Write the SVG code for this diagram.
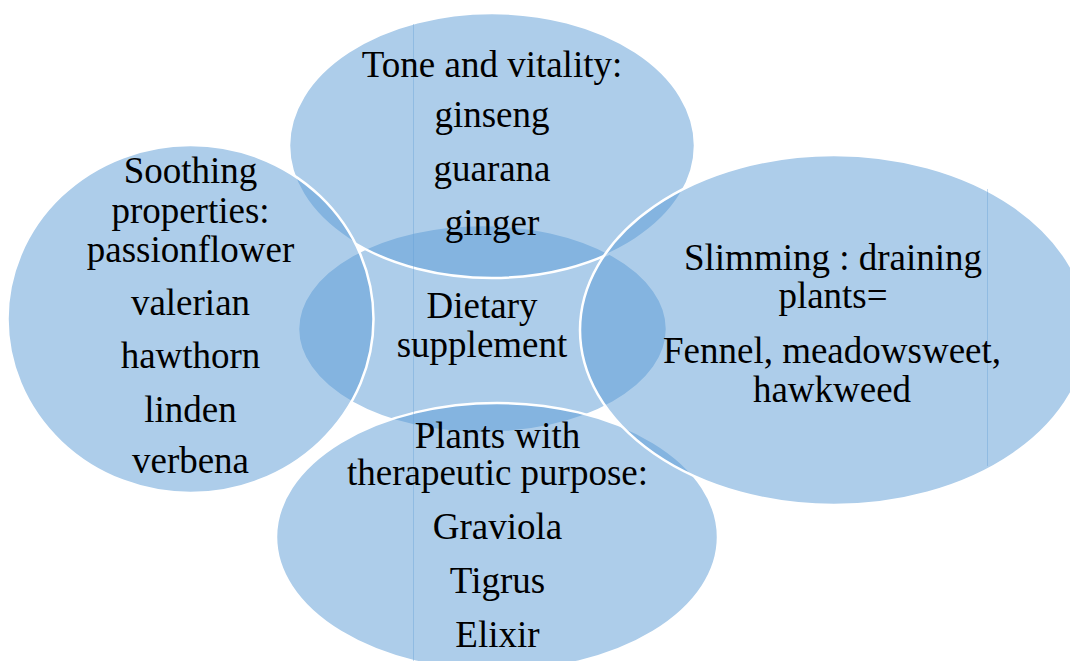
<svg xmlns="http://www.w3.org/2000/svg" width="1070" height="661" viewBox="0 0 1070 661">
<style>
.sh{fill:#5b9bd5;fill-opacity:0.5;stroke:#ffffff;stroke-width:2.5}
.t{font-family:"Liberation Serif","Times New Roman",serif;font-size:37px;fill:#000000;text-anchor:middle}
.seam{stroke:#5b9bd5;stroke-opacity:0.35;stroke-width:1;fill:none}
</style>
<rect width="1070" height="661" fill="#ffffff"/>
<g id="center"><ellipse class="sh" cx="482.5" cy="329" rx="184.5" ry="104"/></g>
<g id="top"><ellipse class="sh" cx="492" cy="145.5" rx="203" ry="132.5"/></g>
<g id="bottom"><ellipse class="sh" cx="497" cy="537" rx="221" ry="134"/></g>
<g id="left"><ellipse class="sh" cx="190.5" cy="319" rx="183" ry="174"/></g>
<g id="right"><ellipse class="sh" cx="834" cy="330" rx="254" ry="175"/></g>
<g id="connectors"></g>
<g id="seams">
<line class="seam" x1="413.5" y1="24" x2="413.5" y2="661"/>
<line class="seam" x1="987.5" y1="189" x2="987.5" y2="466"/>
</g>
<g id="labels">
<text class="t" x="492" y="77">Tone and vitality:</text>
<text class="t" x="492" y="127">ginseng</text>
<text class="t" x="492" y="181">guarana</text>
<text class="t" x="492" y="235">ginger</text>
<text class="t" x="190.5" y="183">Soothing</text>
<text class="t" x="190.5" y="223">properties:</text>
<text class="t" x="190.5" y="262">passionflower</text>
<text class="t" x="190.5" y="315">valerian</text>
<text class="t" x="190.5" y="368">hawthorn</text>
<text class="t" x="190.5" y="422">linden</text>
<text class="t" x="190.5" y="473">verbena</text>
<text class="t" x="833" y="270">Slimming : draining</text>
<text class="t" x="833" y="308">plants=</text>
<text class="t" x="832" y="363">Fennel, meadowsweet,</text>
<text class="t" x="832" y="402">hawkweed</text>
<text class="t" x="482" y="318">Dietary</text>
<text class="t" x="482" y="357">supplement</text>
<text class="t" x="497.5" y="448">Plants with</text>
<text class="t" x="497.5" y="485">therapeutic purpose:</text>
<text class="t" x="497.5" y="539">Graviola</text>
<text class="t" x="497.5" y="593">Tigrus</text>
<text class="t" x="497.5" y="647">Elixir</text>
</g>
</svg>
